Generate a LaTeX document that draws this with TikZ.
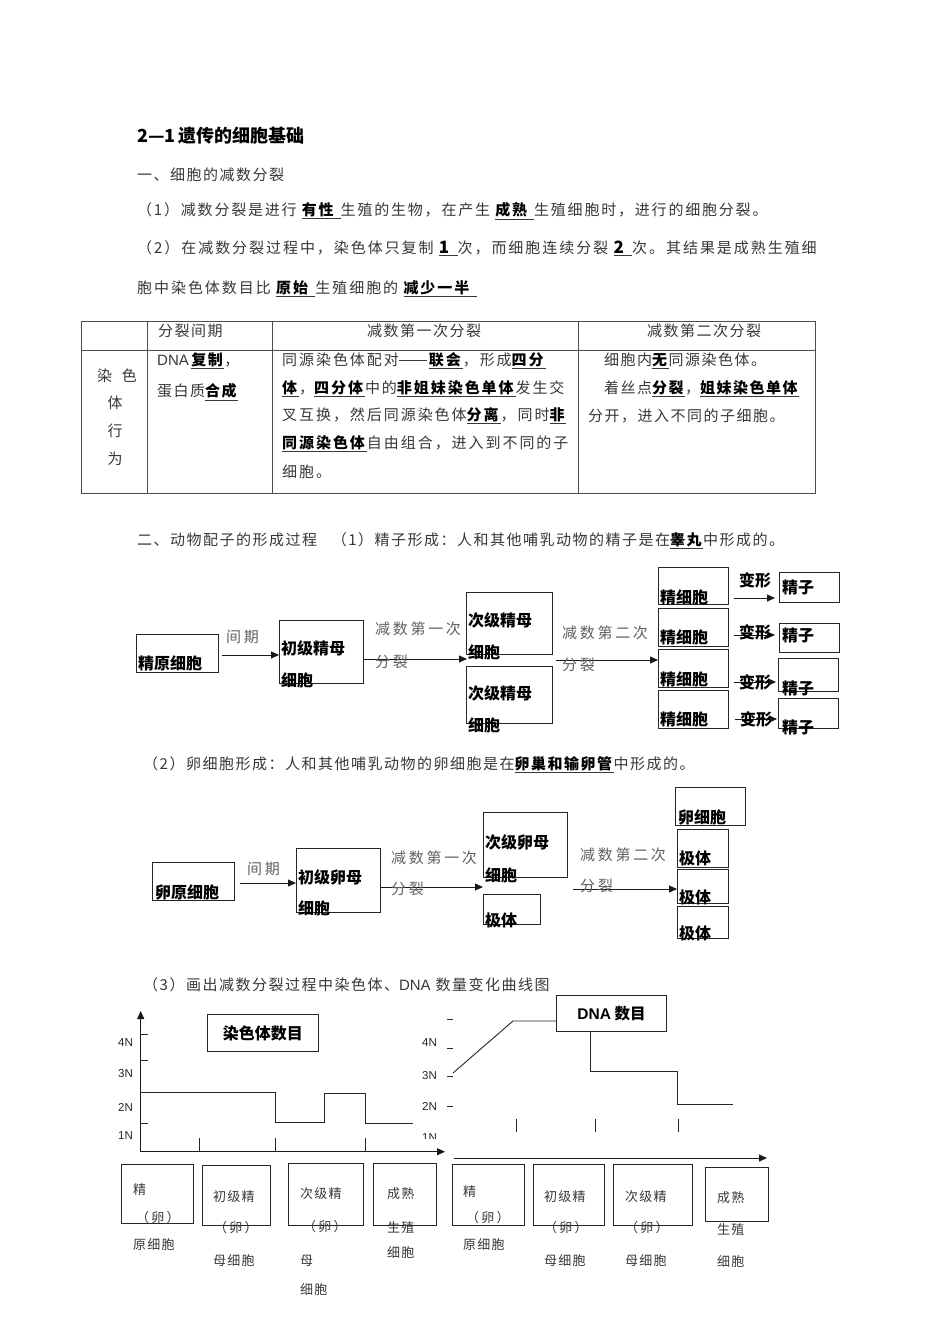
\documentclass[tikz,border=0pt]{standalone}
\usepackage{fontspec}
\setmainfont{Noto Sans CJK SC}
\newfontfamily\latf{Liberation Sans}
\usetikzlibrary{arrows.meta}
\definecolor{tgray}{gray}{0.22}
\definecolor{lgray}{gray}{0.38}
\newcommand{\bk}[1]{\textcolor{black}{\textbf{#1}}}
\newcommand{\uln}[1]{\underline{\bk{#1}}}
\newcommand{\ddash}{\rule[0.33em]{1.85em}{0.05em}\hspace{0.15em}}
\tikzset{
 body/.style={anchor=west, inner sep=0pt, text=tgray, font=\fontsize{15}{18}\selectfont\addfontfeatures{LetterSpace=10}},
 bodyw/.style={anchor=west, inner sep=0pt, text=tgray, font=\fontsize{15}{18}\selectfont\addfontfeatures{LetterSpace=13}},
 tabtxt/.style={anchor=west, inner sep=0pt, text=tgray, font=\fontsize{15}{18}\selectfont\addfontfeatures{LetterSpace=13}},
 blbl/.style={anchor=west, inner sep=0pt, text=black, font=\fontsize{16}{18}\selectfont\bfseries},
 glbl/.style={anchor=west, inner sep=0pt, text=lgray, font=\fontsize{15}{18}\selectfont\addfontfeatures{LetterSpace=18}},
 cell/.style={draw=black!85, line width=0.9pt, anchor=north west, inner sep=0pt},
 arr/.style={draw=black!90, line width=0.9pt, -{Triangle[length=8pt,width=7pt]}},
 axl/.style={anchor=west, inner sep=0pt, text=black!85, font=\latf\fontsize{11.5}{13}\selectfont},
 smalltxt/.style={anchor=west, inner sep=0pt, text=tgray, font=\fontsize{13}{15}\selectfont\addfontfeatures{LetterSpace=9}},
 tline/.style={draw=black!70, line width=0.8pt},
 gline/.style={draw=black!85, line width=0.9pt},
}
\begin{document}
\begin{tikzpicture}[x=1pt,y=-1pt]
\useasboundingbox[fill=white] (0,0) rectangle (950,1344);

% ---------- heading text ----------
\node[anchor=west, inner sep=0pt, font=\fontsize{18}{20}\selectfont\bfseries] (title) at (137,136) {2—1\,遗传的细胞基础};
\node[body] (h1) at (137,175) {一、细胞的减数分裂};
\node[anchor=west, inner sep=0pt, text=tgray, font=\fontsize{15}{18}\selectfont\addfontfeatures{LetterSpace=12}] (l1) at (137,211) {（1）减数分裂是进行\ \uln{有性\ }生殖的生物，在产生\ \uln{成熟\ }生殖细胞时，进行的细胞分裂。};
\node[bodyw] (l2) at (137,248) {（2）在减数分裂过程中，染色体只复制\ \uln{\fontsize{17}{18}\selectfont 1\ }次，而细胞连续分裂\ \uln{\fontsize{17}{18}\selectfont 2\ }次。其结果是成熟生殖细};
\node[bodyw] (l3) at (137,289) {胞中染色体数目比\ \uln{原始\ }生殖细胞的\ \uln{减少一半\ }};

% ---------- table ----------
\draw[tline] (81,321) rectangle (815,493);
\draw[tline] (81,350) -- (815,350);
\draw[tline] (147,321) -- (147,493);
\draw[tline] (272,321) -- (272,493);
\draw[tline] (578,321) -- (578,493);
\node[body] (th1) at (158,331) {分裂间期};
\node[body, anchor=center] (th2) at (424,331) {减数第一次分裂};
\node[body, anchor=center] (th3) at (704,331) {减数第二次分裂};
\node[body, anchor=center] (tc1) at (117,376) {染\ \ 色};
\node[body, anchor=center] (tc2) at (115,403) {体};
\node[body, anchor=center] (tc3) at (115,431) {行};
\node[body, anchor=center] (tc4) at (115,459) {为};
\node[body] (td1) at (157,361) {{\latf DNA}\,\uln{复制}，};
\node[body] (td2) at (157,392) {蛋白质\uln{合成}};
\node[tabtxt] (te1) at (282,361) {同源染色体配对\ddash\uln{联会}，形成\uln{四分}};
\node[tabtxt] (te2) at (282,389) {\uln{体}，\uln{四分体}中的\uln{非姐妹染色单体}发生交};
\node[tabtxt] (te3) at (282,416) {叉互换，然后同源染色体\uln{分离}，同时\uln{非}};
\node[tabtxt] (te4) at (282,444) {\uln{同源染色体}自由组合，进入到不同的子};
\node[tabtxt] (te5) at (282,472) {细胞。};
\node[body] (tf1) at (604,361) {细胞内\uln{无}同源染色体。};
\node[body] (tf2) at (604,389) {着丝点\uln{分裂}，\uln{姐妹染色单体}};
\node[body] (tf3) at (588,416) {分开，进入不同的子细胞。};

% ---------- sperm formation ----------
\node[body] (h2) at (137,541) {二、动物配子的形成过程\ \ \ （1）精子形成：人和其他哺乳动物的精子是在\uln{睾丸}中形成的。};

\node[cell, minimum width=82, minimum height=38] (ja) at (136,634) {};
\node[cell, minimum width=84, minimum height=63] (cj) at (279,620) {};
\node[cell, minimum width=86, minimum height=62] (c1) at (466,592) {};
\node[cell, minimum width=86, minimum height=57] (c2) at (466,666) {};
\node[cell, minimum width=70, minimum height=37] (s1) at (658,567) {};
\node[cell, minimum width=70, minimum height=38] (s2) at (658,608) {};
\node[cell, minimum width=70, minimum height=38] (s3) at (658,649) {};
\node[cell, minimum width=70, minimum height=38] (s4) at (658,690) {};
\node[cell, minimum width=60, minimum height=30] (z1) at (779,572) {};
\node[cell, minimum width=60, minimum height=29] (z2) at (779,623) {};
\node[cell, minimum width=60, minimum height=33] (z3) at (778,658) {};
\node[cell, minimum width=60, minimum height=30] (z4) at (778,698) {};

\node[blbl] (jat) at (138,663) {精原细胞};
\node[blbl] (cjt1) at (281,648) {初级精母};
\node[blbl] (cjt2) at (281,680) {细胞};
\node[blbl] (c1t1) at (468,620) {次级精母};
\node[blbl] (c1t2) at (468,652) {细胞};
\node[blbl] (c2t1) at (468,693) {次级精母};
\node[blbl] (c2t2) at (468,725) {细胞};
\node[blbl] (s1t) at (660,597) {精细胞};
\node[blbl] (s2t) at (660,637) {精细胞};
\node[blbl] (s3t) at (660,679) {精细胞};
\node[blbl] (s4t) at (660,719) {精细胞};
\node[blbl] (z1t) at (782,587) {精子};
\node[blbl] (z2t) at (782,635) {精子};
\node[blbl] (z3t) at (782,688) {精子};
\node[blbl] (z4t) at (782,727) {精子};

\coordinate (ya1) at (0,655);
\coordinate (ya2) at (0,659);
\coordinate (ya3) at (0,660);
\draw[arr] ([xshift=3pt]ja.east |- ya1) -- (cj.west |- ya1);
\draw[arr] (cj.east |- ya2) -- ([xshift=1pt]c1.west |- ya2);
\draw[arr] ([xshift=3pt]c1.east |- ya3) -- (s3.west |- ya3);
\node[glbl] (g1) at (226,637) {间期};
\node[glbl] (g2) at (375,629) {减数第一次};
\node[glbl] (g3) at (375,662) {分裂};
\node[glbl] (g4) at (562,633) {减数第二次};
\node[glbl] (g5) at (562,665) {分裂};

\coordinate (yb1) at (0,598);
\coordinate (yb2) at (0,635);
\coordinate (yb3) at (0,682);
\coordinate (yb4) at (0,719);
\draw[arr] ([xshift=5pt]s1.east |- yb1) -- ([xshift=-4pt]z1.west |- yb1);
\draw[arr] ([xshift=5pt]s2.east |- yb2) -- ([xshift=-4pt]z2.west |- yb2);
\draw[arr] ([xshift=5pt]s3.east |- yb3) -- ([xshift=-2pt]z3.west |- yb3);
\draw[arr] ([xshift=6pt]s4.east |- yb4) -- ([xshift=-1pt]z4.west |- yb4);
\node[blbl] (b1) at (739,580) {变形};
\node[blbl] (b2) at (739,632) {变形};
\node[blbl] (b3) at (739,682) {变形};
\node[blbl] (b4) at (740,719) {变形};

% ---------- egg formation ----------
\node[body] (h3) at (143,765) {（2）卵细胞形成：人和其他哺乳动物的卵细胞是在\uln{卵巢和输卵管}中形成的。};

\node[cell, minimum width=82, minimum height=38] (ly) at (152,862) {};
\node[cell, minimum width=84, minimum height=64] (cl) at (296,848) {};
\node[cell, minimum width=84, minimum height=65] (cl2) at (483,812) {};
\node[cell, minimum width=57, minimum height=30] (jt) at (483,894) {};
\node[cell, minimum width=70, minimum height=38] (lx) at (675,787) {};
\node[cell, minimum width=51, minimum height=38] (j1) at (677,829) {};
\node[cell, minimum width=51, minimum height=34] (j2) at (677,869) {};
\node[cell, minimum width=51, minimum height=32] (j3) at (677,906) {};

\node[blbl] (lyt) at (155,892) {卵原细胞};
\node[blbl] (clt1) at (298,877) {初级卵母};
\node[blbl] (clt2) at (298,908) {细胞};
\node[blbl] (cl2t1) at (485,842) {次级卵母};
\node[blbl] (cl2t2) at (485,875) {细胞};
\node[blbl] (jtt) at (485,920) {极体};
\node[blbl] (lxt) at (678,817) {卵细胞};
\node[blbl] (j1t) at (679,858) {极体};
\node[blbl] (j2t) at (679,897) {极体};
\node[blbl] (j3t) at (679,933) {极体};

\coordinate (yc1) at (0,883);
\coordinate (yc2) at (0,887);
\coordinate (yc3) at (0,889);
\draw[arr] ([xshift=5pt]ly.east |- yc1) -- (cl.west |- yc1);
\draw[arr] (cl.east |- yc2) -- (cl2.west |- yc2);
\draw[arr] ([xshift=5pt]cl2.east |- yc3) -- (j2.west |- yc3);
\node[glbl] (g6) at (247,869) {间期};
\node[glbl] (g7) at (391,858) {减数第一次};
\node[glbl] (g8) at (391,889) {分裂};
\node[glbl] (g9) at (580,855) {减数第二次};
\node[glbl] (g10) at (580,886) {分裂};

% ---------- graphs ----------
\node[body] (h4) at (143,985) {（3）画出减数分裂过程中染色体、{\latf DNA} 数量变化曲线图};

% left graph
\coordinate (o1) at (140.7,1151.7);
\coordinate (ytop1) at (140.7,1011);
\coordinate (xend1) at (445,1151.7);
\draw[arr] (o1) -- (ytop1);
\draw[arr] (o1) -- (xend1);
\foreach \yy in {1034,1060,1092,1123} \draw[gline] (140.7,\yy) -- (148,\yy);
\foreach \xx in {199,275.7,365} \draw[gline] (\xx,1138) -- (\xx,1151.7);
\node[axl] (la4) at (118,1043) {4N};
\node[axl] (la3) at (118,1074) {3N};
\node[axl] (la2) at (118,1107) {2N};
\begin{scope}
\clip (100,1120) rectangle (140,1140);
\node[axl] (la1) at (118,1136) {1N};
\end{scope}
\draw[gline] (145,1092) -- (275.7,1092) -- (275.7,1122.7) -- (324,1122.7) -- (324,1093) -- (365,1093) -- (365,1123) -- (413,1123);
\node[cell, minimum width=111, minimum height=37, font=\fontsize{16}{18}\selectfont\bfseries] (cbox) at (207,1014) {染色体数目};

% right graph
\foreach \yy in {1019,1048,1076,1106} \draw[gline] (447,\yy) -- (452.5,\yy);
\node[axl] (ra4) at (422,1043) {4N};
\node[axl] (ra3) at (422,1076) {3N};
\node[axl] (ra2) at (422,1106) {2N};
\begin{scope}
\clip (415,1120) rectangle (445,1138);
\node[axl] (ra1) at (422,1138) {1N};
\end{scope}
\node[cell, minimum width=110, minimum height=36, font=\fontsize{15.5}{18}\selectfont\bfseries] (dbox) at (556,995) {{\latf DNA} 数目};
\coordinate (d0) at (453,1073);
\coordinate (d1) at (513,1021);
\draw[gline] (d0) -- (d1) -- (d1 -| dbox.west);
\coordinate (d2) at (590,1071);
\draw[gline] (dbox.south west -| d2) -- (d2) -- (677,1071) -- (677,1104) -- (733,1104);
\foreach \xx in {516,595,678} \draw[gline] (\xx,1119) -- (\xx,1132);
\coordinate (o2) at (454,1158);
\coordinate (xend2) at (767,1158);
\draw[arr] (o2) -- (xend2);

% ---------- bottom boxes ----------
\node[cell, minimum width=72, minimum height=59] (B1) at (121,1164) {};
\node[cell, minimum width=68, minimum height=60] (B2) at (202,1165) {};
\node[cell, minimum width=75, minimum height=62] (B3) at (288,1163) {};
\node[cell, minimum width=63, minimum height=62] (B4) at (373,1163) {};
\node[cell, minimum width=72, minimum height=61] (R1) at (452,1164) {};
\node[cell, minimum width=71, minimum height=61] (R2) at (533,1164) {};
\node[cell, minimum width=79, minimum height=61] (R3) at (613,1164) {};
\node[cell, minimum width=63, minimum height=54] (R4) at (705,1167) {};

\node[smalltxt] (B1a) at (133,1190) {精};
\node[smalltxt] (B1b) at (136,1218) {（\,卵\,）};
\node[smalltxt] (B1c) at (133,1245) {原细胞};
\node[smalltxt] (B2a) at (213,1197) {初级精};
\node[smalltxt] (B2b) at (214,1228) {（\,卵\,）};
\node[smalltxt] (B2c) at (213,1261) {母细胞};
\node[smalltxt] (B3a) at (300,1194) {次级精};
\node[smalltxt] (B3b) at (303,1227) {（\,卵\,）};
\node[smalltxt] (B3c) at (300,1261) {母};
\node[smalltxt] (B3d) at (300,1290) {细胞};
\node[smalltxt] (B4a) at (387,1194) {成熟};
\node[smalltxt] (B4b) at (387,1228) {生殖};
\node[smalltxt] (B4c) at (387,1253) {细胞};
\node[smalltxt] (R1a) at (463,1192) {精};
\node[smalltxt] (R1b) at (466,1218) {（\,卵\,）};
\node[smalltxt] (R1c) at (463,1245) {原细胞};
\node[smalltxt] (R2a) at (544,1197) {初级精};
\node[smalltxt] (R2b) at (544,1228) {（\,卵\,）};
\node[smalltxt] (R2c) at (544,1261) {母细胞};
\node[smalltxt] (R3a) at (625,1197) {次级精};
\node[smalltxt] (R3b) at (625,1228) {（\,卵\,）};
\node[smalltxt] (R3c) at (625,1261) {母细胞};
\node[smalltxt] (R4a) at (717,1198) {成熟};
\node[smalltxt] (R4b) at (717,1230) {生殖};
\node[smalltxt] (R4c) at (717,1262) {细胞};
\end{tikzpicture}
\end{document}
